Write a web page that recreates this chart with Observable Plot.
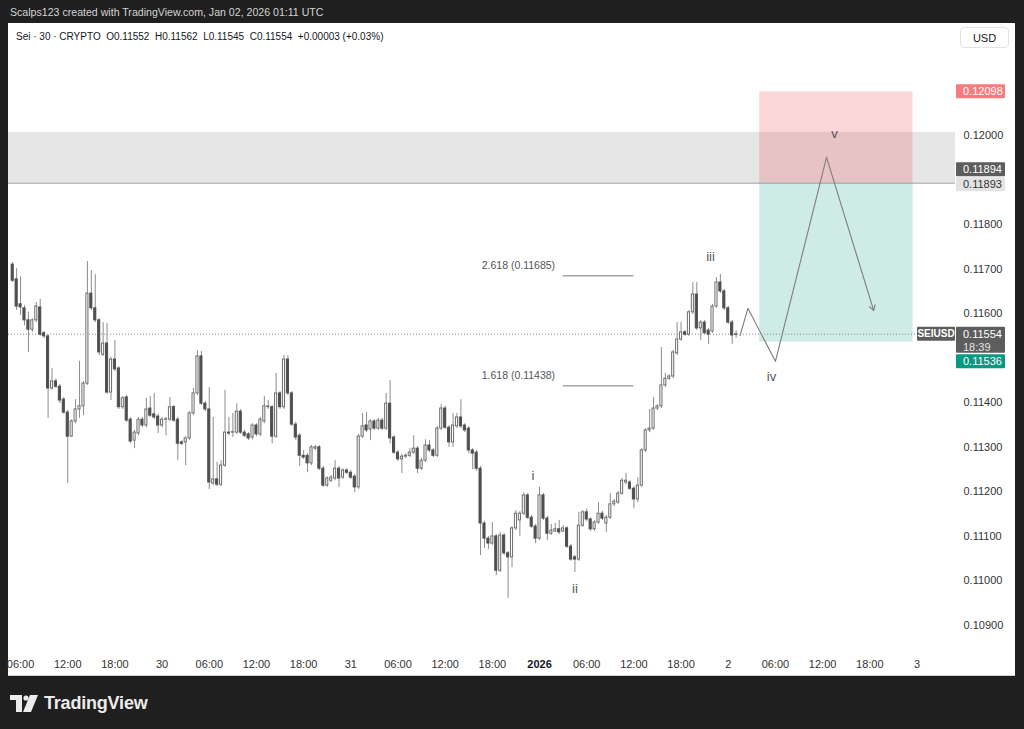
<!DOCTYPE html>
<html><head><meta charset="utf-8">
<script src="https://cdn.jsdelivr.net/npm/d3@7"></script>
<script src="https://cdn.jsdelivr.net/npm/@observablehq/plot@0.6"></script>
<style>
html,body{margin:0;padding:0;background:#1f1f1f;width:1024px;height:729px;overflow:hidden;font-family:"Liberation Sans",Arial,sans-serif;}
#hdr{position:absolute;left:10px;top:6px;color:#d4d4d4;font-size:10.6px;white-space:nowrap;}
#panel{position:absolute;left:8px;top:23px;width:1007px;height:653px;background:#fff;border-bottom:1px solid #d0d0d0;box-sizing:border-box;}
#chart{position:absolute;left:8px;top:23px;}
#legend{position:absolute;left:16px;top:31px;font-size:10px;color:#131722;white-space:pre;}
#usd{position:absolute;left:960px;top:27px;width:49px;height:21px;border:1px solid #e3e3e3;border-radius:4px;font-size:11px;color:#131722;text-align:center;line-height:20px;box-sizing:border-box;background:#fff;}
#logo{position:absolute;left:10px;top:693px;height:20px;display:flex;align-items:center;}
#logo span{color:#ececec;font-size:18px;font-weight:bold;margin-left:6px;letter-spacing:-0.2px;}
</style></head>
<body>
<div id="hdr">Scalps123 created with TradingView.com, Jan 02, 2026 01:11 UTC</div>
<div id="panel"></div>
<div id="chart"></div>
<div id="legend">Sei · 30 · CRYPTO  O0.11552  H0.11562  L0.11545  C0.11554  +0.00003 (+0.03%)</div>
<div id="usd">USD</div>
<div id="logo"><svg width="28" height="17" viewBox="0 0 28 17"><path d="M0 0H12V17H6V5H0Z" fill="#ececec"/><circle cx="16" cy="3" r="2.6" fill="#ececec"/><path d="M20 0H28L21 17H13Z" fill="#ececec"/></svg><span>TradingView</span></div>
<script>
// ---- data: SEIUSD 30-minute candles (Dec 29 05:00 UTC -> Jan 2 01:00 UTC)
const firstCandle = Date.UTC(2025, 11, 29, 5, 0);
const candleMinutes = 30;
const open = [0.11710,0.11677,0.11621,0.11612,0.11585,0.11564,0.11585,0.11614,0.11556,0.11549,
 0.11432,0.11448,0.11436,0.11407,0.11378,0.11324,0.11358,0.11385,0.11392,0.11443,
 0.11645,0.11612,0.11585,0.11508,0.11533,0.11423,0.11497,0.11477,0.11390,0.11412,
 0.11362,0.11315,0.11331,0.11362,0.11349,0.11387,0.11374,0.11369,0.11349,0.11362,
 0.11362,0.11390,0.11362,0.11311,0.11311,0.11320,0.11376,0.11421,0.11504,0.11398,
 0.11385,0.11219,0.11228,0.11216,0.11259,0.11333,0.11333,0.11333,0.11380,0.11333,
 0.11329,0.11322,0.11349,0.11329,0.11358,0.11390,0.11390,0.11324,0.11421,0.11390,
 0.11497,0.11421,0.11351,0.11326,0.11281,0.11281,0.11264,0.11297,0.11300,0.11252,
 0.11214,0.11225,0.11230,0.11252,0.11232,0.11248,0.11243,0.11234,0.11210,0.11324,
 0.11349,0.11340,0.11358,0.11342,0.11360,0.11342,0.11398,0.11322,0.11288,0.11273,
 0.11279,0.11281,0.11288,0.11297,0.11252,0.11270,0.11304,0.11293,0.11281,0.11342,
 0.11387,0.11344,0.11311,0.11347,0.11367,0.11349,0.11342,0.11293,0.11288,0.11252,
 0.11129,0.11095,0.11084,0.11100,0.11023,0.11102,0.11062,0.11053,0.11118,0.11136,
 0.11151,0.11192,0.11142,0.11122,0.11095,0.11192,0.11140,0.11106,0.11111,0.11116,
 0.11111,0.11118,0.11077,0.11053,0.11048,0.11124,0.11154,0.11138,0.11116,0.11131,
 0.11151,0.11129,0.11142,0.11172,0.11176,0.11196,0.11221,0.11221,0.11207,0.11183,
 0.11214,0.11293,0.11338,0.11342,0.11387,0.11392,0.11439,0.11454,0.11459,0.11511,
 0.11542,0.11558,0.11553,0.11603,0.11643,0.11567,0.11580,0.11562,0.11560,0.11616,
 0.11670,0.11650,0.11612,0.11580,0.11552];
const high = [0.11715,0.11701,0.11683,0.11618,0.11603,0.11589,0.11625,0.11632,0.11560,0.11553,
 0.11477,0.11454,0.11441,0.11412,0.11383,0.11362,0.11407,0.11493,0.11448,0.11717,
 0.11697,0.11688,0.11589,0.11580,0.11578,0.11502,0.11540,0.11481,0.11414,0.11416,
 0.11367,0.11338,0.11367,0.11367,0.11410,0.11414,0.11421,0.11374,0.11367,0.11367,
 0.11412,0.11394,0.11367,0.11315,0.11324,0.11380,0.11432,0.11517,0.11515,0.11403,
 0.11434,0.11367,0.11266,0.11270,0.11428,0.11367,0.11376,0.11398,0.11385,0.11338,
 0.11333,0.11353,0.11353,0.11367,0.11414,0.11405,0.11394,0.11466,0.11425,0.11506,
 0.11506,0.11425,0.11356,0.11331,0.11293,0.11286,0.11304,0.11304,0.11304,0.11257,
 0.11234,0.11237,0.11270,0.11257,0.11252,0.11252,0.11248,0.11239,0.11329,0.11376,
 0.11378,0.11362,0.11362,0.11365,0.11365,0.11421,0.11450,0.11326,0.11293,0.11284,
 0.11286,0.11297,0.11326,0.11302,0.11275,0.11317,0.11315,0.11297,0.11347,0.11396,
 0.11392,0.11349,0.11376,0.11376,0.11407,0.11353,0.11347,0.11297,0.11293,0.11257,
 0.11133,0.11100,0.11131,0.11104,0.11109,0.11106,0.11066,0.11122,0.11158,0.11156,
 0.11198,0.11196,0.11147,0.11127,0.11210,0.11196,0.11145,0.11127,0.11129,0.11136,
 0.11124,0.11122,0.11082,0.11057,0.11154,0.11158,0.11162,0.11142,0.11136,0.11176,
 0.11156,0.11147,0.11196,0.11183,0.11201,0.11230,0.11241,0.11225,0.11212,0.11232,
 0.11297,0.11342,0.11385,0.11412,0.11396,0.11524,0.11466,0.11463,0.11517,0.11580,
 0.11580,0.11562,0.11607,0.11670,0.11670,0.11585,0.11585,0.11567,0.11621,0.11681,
 0.11688,0.11654,0.11616,0.11585,0.11562];
const low = [0.11670,0.11607,0.11596,0.11573,0.11513,0.11558,0.11580,0.11549,0.11544,0.11365,
 0.11428,0.11432,0.11398,0.11374,0.11219,0.11322,0.11353,0.11365,0.11371,0.11439,
 0.11607,0.11580,0.11506,0.11504,0.11419,0.11405,0.11470,0.11385,0.11385,0.11356,
 0.11308,0.11297,0.11326,0.11344,0.11344,0.11367,0.11362,0.11331,0.11344,0.11326,
 0.11358,0.11356,0.11270,0.11304,0.11259,0.11315,0.11371,0.11416,0.11394,0.11380,
 0.11205,0.11214,0.11212,0.11212,0.11255,0.11326,0.11322,0.11329,0.11329,0.11322,
 0.11315,0.11317,0.11324,0.11324,0.11353,0.11385,0.11308,0.11320,0.11385,0.11385,
 0.11416,0.11347,0.11315,0.11257,0.11273,0.11243,0.11259,0.11293,0.11248,0.11210,
 0.11210,0.11221,0.11225,0.11210,0.11228,0.11239,0.11228,0.11198,0.11205,0.11320,
 0.11333,0.11315,0.11338,0.11338,0.11338,0.11338,0.11308,0.11284,0.11268,0.11241,
 0.11275,0.11277,0.11284,0.11241,0.11248,0.11266,0.11288,0.11277,0.11277,0.11338,
 0.11340,0.11300,0.11300,0.11342,0.11342,0.11333,0.11286,0.11250,0.11246,0.11057,
 0.11073,0.11071,0.11080,0.11012,0.11019,0.11057,0.10961,0.11030,0.11113,0.11100,
 0.11147,0.11138,0.11118,0.11084,0.11091,0.11136,0.11091,0.11102,0.11109,0.11104,
 0.11109,0.11073,0.11044,0.11019,0.11044,0.11120,0.11133,0.11111,0.11111,0.11127,
 0.11136,0.11109,0.11138,0.11167,0.11172,0.11192,0.11216,0.11203,0.11162,0.11176,
 0.11210,0.11288,0.11333,0.11338,0.11383,0.11387,0.11434,0.11450,0.11454,0.11506,
 0.11538,0.11549,0.11549,0.11598,0.11562,0.11540,0.11553,0.11531,0.11556,0.11612,
 0.11645,0.11607,0.11576,0.11531,0.11545];
const close = [0.11674,0.11616,0.11614,0.11585,0.11564,0.11585,0.11616,0.11553,0.11549,0.11432,
 0.11448,0.11436,0.11405,0.11378,0.11324,0.11358,0.11385,0.11392,0.11443,0.11645,
 0.11612,0.11585,0.11513,0.11533,0.11423,0.11497,0.11475,0.11390,0.11410,0.11360,
 0.11313,0.11333,0.11362,0.11349,0.11385,0.11371,0.11367,0.11349,0.11362,0.11363,
 0.11390,0.11360,0.11308,0.11308,0.11320,0.11376,0.11421,0.11504,0.11398,0.11385,
 0.11221,0.11228,0.11216,0.11259,0.11333,0.11331,0.11334,0.11380,0.11333,0.11326,
 0.11320,0.11349,0.11329,0.11362,0.11392,0.11392,0.11324,0.11421,0.11390,0.11497,
 0.11421,0.11351,0.11322,0.11281,0.11277,0.11264,0.11300,0.11300,0.11252,0.11214,
 0.11230,0.11232,0.11252,0.11230,0.11248,0.11243,0.11232,0.11210,0.11324,0.11347,
 0.11338,0.11358,0.11342,0.11360,0.11342,0.11398,0.11320,0.11288,0.11273,0.11279,
 0.11281,0.11288,0.11297,0.11252,0.11270,0.11304,0.11293,0.11281,0.11342,0.11387,
 0.11344,0.11311,0.11349,0.11367,0.11347,0.11338,0.11293,0.11286,0.11252,0.11129,
 0.11095,0.11084,0.11100,0.11023,0.11102,0.11062,0.11053,0.11118,0.11151,0.11151,
 0.11192,0.11142,0.11122,0.11095,0.11192,0.11140,0.11106,0.11113,0.11116,0.11109,
 0.11118,0.11077,0.11048,0.11048,0.11124,0.11154,0.11138,0.11116,0.11131,0.11151,
 0.11140,0.11142,0.11172,0.11178,0.11196,0.11225,0.11225,0.11207,0.11183,0.11214,
 0.11293,0.11338,0.11342,0.11387,0.11392,0.11439,0.11454,0.11459,0.11513,0.11542,
 0.11558,0.11553,0.11603,0.11643,0.11567,0.11580,0.11556,0.11553,0.11616,0.11670,
 0.11650,0.11612,0.11580,0.11551,0.11554];

// axis ticks
const xTickLabels = ["06:00","12:00","18:00","30","06:00","12:00","18:00","31","06:00","12:00","18:00","2026","06:00","12:00","18:00","2","06:00","12:00","18:00","3"];
const yTicks = [0.109,0.110,0.111,0.112,0.113,0.114,0.116,0.117,0.118,0.120];

// drawings
const zoneLow = 0.11893, zoneHigh = 0.12007;              // grey supply zone + line
const entryPrice = 0.11894, stopPrice = 0.12098, targetPrice = 0.11536;
const positionStart = Date.UTC(2026,0,2,4,0), positionEnd = Date.UTC(2026,0,2,23,30);
const lastPrice = 0.11554;
const fibLabels = ["2.618 (0.11685)", "1.618 (0.11438)"];
const fibLevels = [0.11685, 0.11438];
const fibStart = Date.UTC(2026,0,1,3,0), fibEnd = Date.UTC(2026,0,1,12,0);
const pathTimes = [Date.UTC(2026,0,2,1,30), Date.UTC(2026,0,2,2,30), Date.UTC(2026,0,2,6,0), Date.UTC(2026,0,2,12,30), Date.UTC(2026,0,2,18,30)];
const pathPrices = [0.11551, 0.11612, 0.11493, 0.11951, 0.11607];
const waveLabels = ["i","ii","iii","iv","v"];
const waveTimes = [Date.UTC(2025,11,31,23,10), Date.UTC(2026,0,1,4,30), Date.UTC(2026,0,1,21,45), Date.UTC(2026,0,2,5,30), Date.UTC(2026,0,2,13,30)];
const wavePrices = [0.11237, 0.10983, 0.11728, 0.11459, 0.12004];

// ---- build
const step = candleMinutes * 60000;
const candles = open.map((o, i) => ({time: new Date(firstCandle + i*step), open: o, high: high[i], low: low[i], close: close[i]}));
const xTicks = xTickLabels.map((_, i) => new Date(Date.UTC(2025,11,29,6) + i*6*3600000));
const tickLabel = new Map(xTicks.map((t, i) => [+t, xTickLabels[i]]));
const xStart = new Date(Date.UTC(2025,11,29,4,28)), xEnd = new Date(Date.UTC(2026,0,3,4,54));
const half = 8 * 60000;
const W = 1007, H = 653;

const chart = Plot.plot({
  width: W, height: H,
  marginTop: 0, marginBottom: 26, marginLeft: 0, marginRight: 60,
  style: {background: "transparent", fontFamily: "Liberation Sans, Arial, sans-serif", fontSize: "11px", color: "#333"},
  x: {type: "utc", domain: [xStart, xEnd]},
  y: {domain: [0.108439, 0.122514]},
  marks: [
    Plot.rect([0], {x1: xStart, x2: xEnd, y1: zoneLow, y2: zoneHigh, fill: "#e6e6e6"}),
    Plot.rect([0], {x1: new Date(positionStart), x2: new Date(positionEnd), y1: entryPrice, y2: stopPrice, fill: "rgba(242,54,69,0.2)"}),
    Plot.rect([0], {x1: new Date(positionStart), x2: new Date(positionEnd), y1: targetPrice, y2: entryPrice, fill: "rgba(8,153,129,0.2)"}),
    Plot.ruleY([zoneLow], {stroke: "#9a9a9a", strokeWidth: 1}),
    Plot.ruleY([lastPrice], {stroke: "#8a8a8a", strokeDasharray: "1,2"}),
    Plot.ruleY(fibLevels, {y: d => d, x1: new Date(fibStart), x2: new Date(fibEnd), stroke: "#7a7a7a"}),
    Plot.text(fibLabels, {x: new Date(fibStart), y: fibLevels, text: d => d, textAnchor: "end", dx: -8, dy: -10, fill: "#555", fontSize: 10.5}),
    Plot.ruleX(candles, {x: "time", y1: "low", y2: "high", stroke: "#8c8c8c", strokeWidth: 1}),
    Plot.rect(candles, {x1: d => new Date(+d.time - half), x2: d => new Date(+d.time + half), y1: "open", y2: "close",
      fill: d => d.close >= d.open ? "#ffffff" : "#4f4f4f", stroke: d => d.close >= d.open ? "#6e6e6e" : "#4f4f4f", strokeWidth: 1}),
    Plot.line(pathTimes.slice(0, 4).map((t, i) => [new Date(t), pathPrices[i]]), {stroke: "#7d7d7d", strokeWidth: 1.1}),
    Plot.arrow([0], {x1: new Date(pathTimes[3]), y1: pathPrices[3], x2: new Date(pathTimes[4]), y2: pathPrices[4], stroke: "#7d7d7d", strokeWidth: 1.1, headLength: 8}),
    Plot.text(waveLabels, {x: waveTimes.map(t => new Date(t)), y: wavePrices, text: d => d, fill: "#555", fontSize: 13}),
    Plot.axisX(xTicks.filter(t => tickLabel.get(+t) !== "2026"), {tickSize: 0, tickPadding: 10, tickFormat: t => tickLabel.get(+t), fill: "#333"}),
    Plot.axisX(xTicks.filter(t => tickLabel.get(+t) === "2026"), {tickSize: 0, tickPadding: 10, tickFormat: t => tickLabel.get(+t), fill: "#131722", fontWeight: "bold"}),
    Plot.axisY(yTicks, {anchor: "right", tickSize: 0, tickPadding: 8, tickFormat: d3.format(".5f"), fill: "#333"})
  ]
});
document.getElementById("chart").appendChild(chart);

// price tags on the right axis, positioned with the chart's own y scale
const y = chart.scale("y");
const svg = d3.select(chart).style("overflow", "visible");
const g = svg.append("g").attr("font-family", "Liberation Sans, Arial, sans-serif").attr("font-size", 11).attr("text-anchor", "start");
function tag(x, w, yc, h, fill, lines, color) {
  g.append("rect").attr("x", x).attr("y", yc - 7).attr("width", w).attr("height", h).attr("fill", fill).attr("rx", 1);
  lines.forEach((l, i) => g.append("text").attr("x", x + 7).attr("y", yc + i*13).attr("dy", "0.35em")
    .attr("text-anchor", "start").attr("fill", i ? "#e6e6e6" : color).text(l));
}
const ax = W - 60 + 1;
tag(ax, 49, y.apply(stopPrice), 14, "#f77c80", ["0.12098"], "#fff");
tag(ax, 49, y.apply(entryPrice) - 13, 14, "#5d5d5d", ["0.11894"], "#fff");
tag(ax, 49, y.apply(zoneLow) + 1.5, 14, "#e3e3e3", ["0.11893"], "#333");
tag(ax, 49, y.apply(lastPrice), 26, "#5d5d5d", ["0.11554", "18:39"], "#fff");
tag(ax, 49, y.apply(targetPrice) + 19.5, 14, "#089981", ["0.11536"], "#fff");
const sy = y.apply(lastPrice);
g.append("rect").attr("x", ax - 39).attr("y", sy - 7).attr("width", 38).attr("height", 14).attr("fill", "#5d5d5d").attr("rx", 1);
g.append("text").attr("x", ax - 20).attr("y", sy).attr("dy", "0.35em").attr("text-anchor", "middle").attr("fill", "#fff").attr("font-size", 10).attr("font-weight", "bold").text("SEIUSD");
</script>
</body></html>
